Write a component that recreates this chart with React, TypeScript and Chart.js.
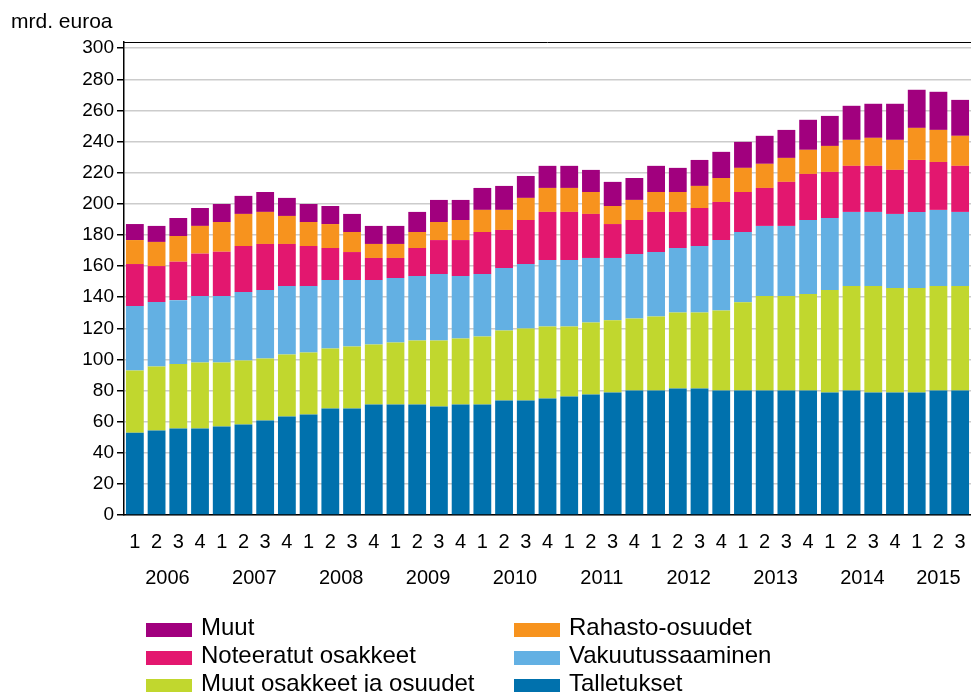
import React, { useEffect, useRef } from 'react';
import { Chart, registerables } from 'chart.js';

Chart.register(...registerables);

const quarters = [
  '1','2','3','4','1','2','3','4','1','2','3','4','1','2','3','4','1','2','3','4',
  '1','2','3','4','1','2','3','4','1','2','3','4','1','2','3','4','1','2','3',
];
const years = ['2006','2007','2008','2009','2010','2011','2012','2013','2014','2015'];
const yTicks = [0,20,40,60,80,100,120,140,160,180,200,220,240,260,280,300];

const talletukset = [52.8,54.3,55.6,55.6,56.8,58.1,60.7,63.3,64.6,68.4,68.4,71.0,71.0,71.0,69.7,71.0,71.0,73.6,73.6,74.9,76.1,77.4,78.7,80.0,80.0,81.3,81.3,80.0,80.0,80.0,80.0,80.0,78.7,80.0,78.7,78.7,78.7,80.0,80.0];
const muutOsakkeet = [40.1,41.2,41.4,42.4,41.2,41.2,39.9,39.9,39.9,38.6,39.9,38.6,39.9,41.2,42.5,42.5,43.8,45.0,46.3,46.3,45.1,46.4,46.4,46.3,47.6,48.9,48.9,51.5,56.8,60.7,60.7,62.0,65.9,67.1,68.4,67.2,67.2,67.1,67.1];
const vakuutus = [41.4,41.4,41.1,42.7,42.7,44.0,44.0,43.9,42.6,44.0,42.7,41.4,41.4,41.4,42.7,40.1,40.1,40.1,41.4,42.7,42.7,41.4,40.1,41.4,41.4,41.4,42.7,45.2,45.1,45.1,45.1,47.6,46.3,47.7,47.7,47.6,48.9,49.0,47.7];
const noteeratut = [27.0,23.1,24.7,27.3,28.5,29.6,29.6,27.1,25.8,20.6,18.0,14.2,12.9,18.0,21.8,23.1,27.0,24.5,28.3,30.9,30.9,28.3,21.8,21.9,25.8,23.2,24.4,24.5,25.7,24.4,28.3,29.6,29.6,29.6,29.6,28.3,33.4,30.8,29.6];
const rahasto = [15.4,15.5,16.5,17.8,19.1,20.6,20.6,18.0,15.4,15.4,12.9,9.0,9.0,10.3,11.6,12.9,14.2,12.9,14.2,15.4,15.4,14.1,11.6,12.9,12.8,12.8,14.2,15.4,15.5,15.5,15.4,15.5,16.7,16.7,18.0,19.3,20.6,20.6,19.3];
const muut = [10.3,10.3,11.6,11.5,11.6,11.6,12.8,11.6,11.6,11.6,11.6,11.6,11.6,12.9,14.2,12.9,14.1,15.4,14.1,14.2,14.2,14.2,15.5,14.1,16.8,15.5,16.7,16.8,16.7,18.0,18.0,19.3,19.3,21.9,21.9,23.2,24.5,24.5,23.1];

const seriesNames = ['Talletukset','Muut osakkeet ja osuudet','Vakuutussaaminen','Noteeratut osakkeet','Rahasto-osuudet','Muut'];
const seriesColors = ['#0071AD','#C1D72E','#63B0E3','#E3176F','#F7931E','#A1007E'];
const seriesData = [talletukset, muutOsakkeet, vakuutus, noteeratut, rahasto, muut];
const unitLabel = 'mrd. euroa';

// legend layout: [series index, column, row]
const legendOrder = [[5,0,0],[3,0,1],[1,0,2],[4,1,0],[2,1,1],[0,1,2]];

const FONT = "'Liberation Sans', Arial, sans-serif";

export default function App() {
  const ref = useRef<HTMLCanvasElement>(null);

  useEffect(() => {
    const canvas = ref.current;
    if (!canvas) return;

    const overlay = {
      id: 'overlay',
      afterDraw(chart: any) {
        const { ctx, chartArea, scales } = chart;
        const xs = scales.x;
        ctx.save();
        ctx.strokeStyle = '#000';
        ctx.lineWidth = 1;
        ctx.beginPath();
        ctx.moveTo(chartArea.left, chartArea.top + 0.5);
        ctx.lineTo(chartArea.right, chartArea.top + 0.5);
        ctx.stroke();

        ctx.fillStyle = '#000';
        ctx.font = `21px ${FONT}`;
        ctx.textAlign = 'left';
        ctx.textBaseline = 'middle';
        ctx.fillText(unitLabel, 11, 22);

        ctx.textAlign = 'center';
        ctx.font = `20px ${FONT}`;
        const n = quarters.length;
        years.forEach((yr, i) => {
          const a = i * 4;
          const b = Math.min(a + 3, n - 1);
          const cx = (xs.getPixelForValue(a) + xs.getPixelForValue(b)) / 2;
          ctx.fillText(yr, cx, 578);
        });

        ctx.font = `24px ${FONT}`;
        ctx.textAlign = 'left';
        const colX = [146, 514];
        const rowY = [630, 658, 686];
        legendOrder.forEach(([si, col, row]) => {
          const x0 = colX[col];
          const y0 = rowY[row];
          ctx.fillStyle = seriesColors[si];
          ctx.fillRect(x0, y0 - 7, 46, 14);
          ctx.fillStyle = '#000';
          ctx.fillText(seriesNames[si], x0 + 55, y0 - 2);
        });
        ctx.restore();
      },
    };

    const chart = new Chart(canvas, {
      type: 'bar',
      data: {
        labels: quarters,
        datasets: seriesData.map((d, i) => ({
          label: seriesNames[i],
          data: d,
          backgroundColor: seriesColors[i],
          borderWidth: 0,
          barPercentage: 0.82,
          categoryPercentage: 1.0,
        })),
      },
      options: {
        responsive: false,
        animation: false,
        devicePixelRatio: 1,
        layout: { autoPadding: false, padding: { top: 42, left: 0, right: 0, bottom: 0 } },
        plugins: {
          legend: { display: false },
          tooltip: { enabled: false },
          title: { display: false },
        },
        scales: {
          x: {
            stacked: true,
            grid: { display: false, drawTicks: false },
            border: { display: true, color: '#000', width: 1.5 },
            ticks: {
              color: '#000',
              font: { family: FONT, size: 20 },
              padding: 15,
              maxRotation: 0,
              autoSkip: false,
            },
            afterFit: (s: any) => {
              s.height = 177;
              s.paddingLeft = 0;
              s.paddingRight = 0;
              s.paddingTop = 0;
              s.paddingBottom = 0;
            },
          },
          y: {
            stacked: true,
            min: 0,
            max: 304,
            grid: { color: '#cccccc', lineWidth: 1.5, tickColor: '#000', tickLength: 7, drawTicks: true },
            border: { display: true, color: '#000', width: 1.5 },
            afterBuildTicks: (s: any) => { s.ticks = yTicks.map((v) => ({ value: v })); },
            ticks: {
              color: '#000',
              font: { family: FONT, size: 19 },
              padding: 3,
            },
            afterFit: (s: any) => {
              s.width = 124;
              s.paddingTop = 0;
              s.paddingBottom = 0;
              s.paddingLeft = 0;
              s.paddingRight = 0;
            },
          },
        },
      },
      plugins: [overlay],
    } as any);

    return () => chart.destroy();
  }, []);

  return (
    <canvas
      ref={ref}
      width={971}
      height={692}
      style={{ position: 'fixed', left: 0, top: 0, width: 971, height: 692, display: 'block', background: '#fff' }}
    />
  );
}
